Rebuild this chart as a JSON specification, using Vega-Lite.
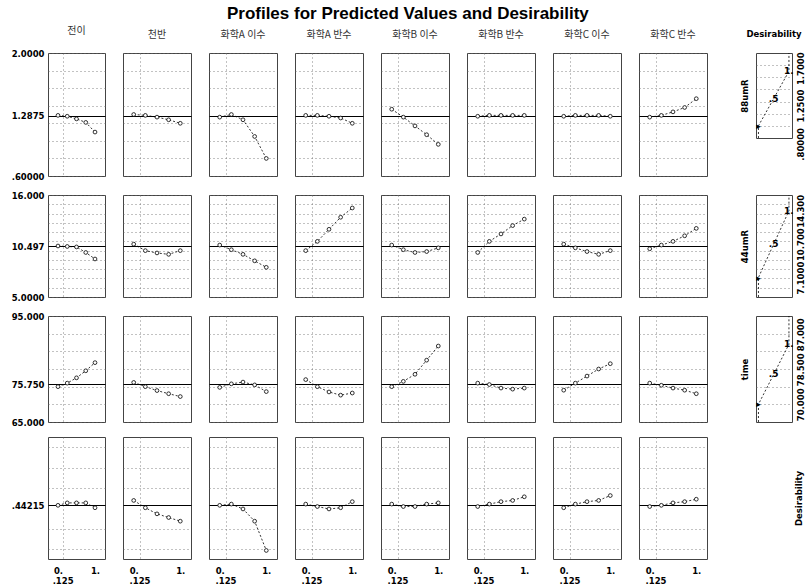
{
"$schema": "https://vega.github.io/schema/vega-lite/v6.json",
"padding": {"left": 10, "top": 4, "right": 0, "bottom": 0},
"title": {"text": "Profiles for Predicted Values and Desirability", "font": "Liberation Sans", "fontSize": 17, "fontWeight": "bold", "color": "#000", "anchor": "middle", "offset": 3},
"config": {
  "view": {"stroke": "#444", "strokeWidth": 1},
  "axis": {"ticks": false, "domain": false, "labelFont": "DejaVu Sans", "labelFontWeight": "bold", "labelFontSize": 8.5, "labelColor": "#000", "labelOverlap": false, "labelFlush": false, "labelPadding": 4, "gridColor": "#666", "gridDash": [1, 3], "gridWidth": 0.8, "minExtent": 0, "titleFont": "DejaVu Sans", "titleFontWeight": "bold", "titleFontSize": 8.5, "titleColor": "#000"},
  "line": {"color": "#000", "strokeDash": [2, 2], "strokeWidth": 0.8},
  "title": {"font": "Noto Sans CJK KR", "fontSize": 10, "fontWeight": "normal", "color": "#333", "offset": 13}
},
"datasets": {
  "prof": [
    {"r":"88umR","c":"전이","x":0,"y":1.29},{"r":"88umR","c":"전이","x":0.25,"y":1.28},{"r":"88umR","c":"전이","x":0.5,"y":1.25},{"r":"88umR","c":"전이","x":0.75,"y":1.21},{"r":"88umR","c":"전이","x":1,"y":1.10},
    {"r":"88umR","c":"천반","x":0,"y":1.30},{"r":"88umR","c":"천반","x":0.25,"y":1.29},{"r":"88umR","c":"천반","x":0.5,"y":1.27},{"r":"88umR","c":"천반","x":0.75,"y":1.24},{"r":"88umR","c":"천반","x":1,"y":1.20},
    {"r":"88umR","c":"화학A 이수","x":0,"y":1.27},{"r":"88umR","c":"화학A 이수","x":0.25,"y":1.30},{"r":"88umR","c":"화학A 이수","x":0.5,"y":1.24},{"r":"88umR","c":"화학A 이수","x":0.75,"y":1.05},{"r":"88umR","c":"화학A 이수","x":1,"y":0.80},
    {"r":"88umR","c":"화학A 반수","x":0,"y":1.29},{"r":"88umR","c":"화학A 반수","x":0.25,"y":1.29},{"r":"88umR","c":"화학A 반수","x":0.5,"y":1.28},{"r":"88umR","c":"화학A 반수","x":0.75,"y":1.26},{"r":"88umR","c":"화학A 반수","x":1,"y":1.20},
    {"r":"88umR","c":"화학B 이수","x":0,"y":1.36},{"r":"88umR","c":"화학B 이수","x":0.25,"y":1.27},{"r":"88umR","c":"화학B 이수","x":0.5,"y":1.17},{"r":"88umR","c":"화학B 이수","x":0.75,"y":1.07},{"r":"88umR","c":"화학B 이수","x":1,"y":0.96},
    {"r":"88umR","c":"화학B 반수","x":0,"y":1.28},{"r":"88umR","c":"화학B 반수","x":0.25,"y":1.29},{"r":"88umR","c":"화학B 반수","x":0.5,"y":1.29},{"r":"88umR","c":"화학B 반수","x":0.75,"y":1.29},{"r":"88umR","c":"화학B 반수","x":1,"y":1.29},
    {"r":"88umR","c":"화학C 이수","x":0,"y":1.28},{"r":"88umR","c":"화학C 이수","x":0.25,"y":1.29},{"r":"88umR","c":"화학C 이수","x":0.5,"y":1.29},{"r":"88umR","c":"화학C 이수","x":0.75,"y":1.29},{"r":"88umR","c":"화학C 이수","x":1,"y":1.28},
    {"r":"88umR","c":"화학C 반수","x":0,"y":1.27},{"r":"88umR","c":"화학C 반수","x":0.25,"y":1.29},{"r":"88umR","c":"화학C 반수","x":0.5,"y":1.33},{"r":"88umR","c":"화학C 반수","x":0.75,"y":1.38},{"r":"88umR","c":"화학C 반수","x":1,"y":1.48},
    {"r":"44umR","c":"전이","x":0,"y":10.5},{"r":"44umR","c":"전이","x":0.25,"y":10.45},{"r":"44umR","c":"전이","x":0.5,"y":10.4},{"r":"44umR","c":"전이","x":0.75,"y":9.8},{"r":"44umR","c":"전이","x":1,"y":9.1},
    {"r":"44umR","c":"천반","x":0,"y":10.7},{"r":"44umR","c":"천반","x":0.25,"y":10.0},{"r":"44umR","c":"천반","x":0.5,"y":9.75},{"r":"44umR","c":"천반","x":0.75,"y":9.6},{"r":"44umR","c":"천반","x":1,"y":10.0},
    {"r":"44umR","c":"화학A 이수","x":0,"y":10.6},{"r":"44umR","c":"화학A 이수","x":0.25,"y":10.1},{"r":"44umR","c":"화학A 이수","x":0.5,"y":9.6},{"r":"44umR","c":"화학A 이수","x":0.75,"y":8.9},{"r":"44umR","c":"화학A 이수","x":1,"y":8.2},
    {"r":"44umR","c":"화학A 반수","x":0,"y":10.0},{"r":"44umR","c":"화학A 반수","x":0.25,"y":11.0},{"r":"44umR","c":"화학A 반수","x":0.5,"y":12.3},{"r":"44umR","c":"화학A 반수","x":0.75,"y":13.6},{"r":"44umR","c":"화학A 반수","x":1,"y":14.6},
    {"r":"44umR","c":"화학B 이수","x":0,"y":10.6},{"r":"44umR","c":"화학B 이수","x":0.25,"y":10.1},{"r":"44umR","c":"화학B 이수","x":0.5,"y":9.8},{"r":"44umR","c":"화학B 이수","x":0.75,"y":9.9},{"r":"44umR","c":"화학B 이수","x":1,"y":10.3},
    {"r":"44umR","c":"화학B 반수","x":0,"y":9.8},{"r":"44umR","c":"화학B 반수","x":0.25,"y":11.0},{"r":"44umR","c":"화학B 반수","x":0.5,"y":11.8},{"r":"44umR","c":"화학B 반수","x":0.75,"y":12.7},{"r":"44umR","c":"화학B 반수","x":1,"y":13.4},
    {"r":"44umR","c":"화학C 이수","x":0,"y":10.7},{"r":"44umR","c":"화학C 이수","x":0.25,"y":10.3},{"r":"44umR","c":"화학C 이수","x":0.5,"y":9.9},{"r":"44umR","c":"화학C 이수","x":0.75,"y":9.6},{"r":"44umR","c":"화학C 이수","x":1,"y":10.0},
    {"r":"44umR","c":"화학C 반수","x":0,"y":10.2},{"r":"44umR","c":"화학C 반수","x":0.25,"y":10.6},{"r":"44umR","c":"화학C 반수","x":0.5,"y":11.0},{"r":"44umR","c":"화학C 반수","x":0.75,"y":11.6},{"r":"44umR","c":"화학C 반수","x":1,"y":12.4},
    {"r":"time","c":"전이","x":0,"y":75.0},{"r":"time","c":"전이","x":0.25,"y":76.0},{"r":"time","c":"전이","x":0.5,"y":77.5},{"r":"time","c":"전이","x":0.75,"y":79.5},{"r":"time","c":"전이","x":1,"y":81.8},
    {"r":"time","c":"천반","x":0,"y":76.2},{"r":"time","c":"천반","x":0.25,"y":75.0},{"r":"time","c":"천반","x":0.5,"y":73.9},{"r":"time","c":"천반","x":0.75,"y":73.0},{"r":"time","c":"천반","x":1,"y":72.2},
    {"r":"time","c":"화학A 이수","x":0,"y":74.8},{"r":"time","c":"화학A 이수","x":0.25,"y":75.8},{"r":"time","c":"화학A 이수","x":0.5,"y":76.3},{"r":"time","c":"화학A 이수","x":0.75,"y":75.5},{"r":"time","c":"화학A 이수","x":1,"y":73.6},
    {"r":"time","c":"화학A 반수","x":0,"y":77.0},{"r":"time","c":"화학A 반수","x":0.25,"y":75.0},{"r":"time","c":"화학A 반수","x":0.5,"y":73.5},{"r":"time","c":"화학A 반수","x":0.75,"y":72.6},{"r":"time","c":"화학A 반수","x":1,"y":73.2},
    {"r":"time","c":"화학B 이수","x":0,"y":75.0},{"r":"time","c":"화학B 이수","x":0.25,"y":76.5},{"r":"time","c":"화학B 이수","x":0.5,"y":78.5},{"r":"time","c":"화학B 이수","x":0.75,"y":82.5},{"r":"time","c":"화학B 이수","x":1,"y":86.5},
    {"r":"time","c":"화학B 반수","x":0,"y":76.0},{"r":"time","c":"화학B 반수","x":0.25,"y":75.6},{"r":"time","c":"화학B 반수","x":0.5,"y":74.6},{"r":"time","c":"화학B 반수","x":0.75,"y":74.3},{"r":"time","c":"화학B 반수","x":1,"y":74.6},
    {"r":"time","c":"화학C 이수","x":0,"y":74.0},{"r":"time","c":"화학C 이수","x":0.25,"y":76.0},{"r":"time","c":"화학C 이수","x":0.5,"y":78.0},{"r":"time","c":"화학C 이수","x":0.75,"y":80.0},{"r":"time","c":"화학C 이수","x":1,"y":81.5},
    {"r":"time","c":"화학C 반수","x":0,"y":76.0},{"r":"time","c":"화학C 반수","x":0.25,"y":75.4},{"r":"time","c":"화학C 반수","x":0.5,"y":74.6},{"r":"time","c":"화학C 반수","x":0.75,"y":74.0},{"r":"time","c":"화학C 반수","x":1,"y":73.0},
    {"r":"Desirability","c":"전이","x":0,"y":0.44},{"r":"Desirability","c":"전이","x":0.25,"y":0.46},{"r":"Desirability","c":"전이","x":0.5,"y":0.46},{"r":"Desirability","c":"전이","x":0.75,"y":0.46},{"r":"Desirability","c":"전이","x":1,"y":0.42},
    {"r":"Desirability","c":"천반","x":0,"y":0.48},{"r":"Desirability","c":"천반","x":0.25,"y":0.42},{"r":"Desirability","c":"천반","x":0.5,"y":0.37},{"r":"Desirability","c":"천반","x":0.75,"y":0.34},{"r":"Desirability","c":"천반","x":1,"y":0.31},
    {"r":"Desirability","c":"화학A 이수","x":0,"y":0.44},{"r":"Desirability","c":"화학A 이수","x":0.25,"y":0.45},{"r":"Desirability","c":"화학A 이수","x":0.5,"y":0.41},{"r":"Desirability","c":"화학A 이수","x":0.75,"y":0.31},{"r":"Desirability","c":"화학A 이수","x":1,"y":0.07},
    {"r":"Desirability","c":"화학A 반수","x":0,"y":0.45},{"r":"Desirability","c":"화학A 반수","x":0.25,"y":0.43},{"r":"Desirability","c":"화학A 반수","x":0.5,"y":0.41},{"r":"Desirability","c":"화학A 반수","x":0.75,"y":0.42},{"r":"Desirability","c":"화학A 반수","x":1,"y":0.47},
    {"r":"Desirability","c":"화학B 이수","x":0,"y":0.45},{"r":"Desirability","c":"화학B 이수","x":0.25,"y":0.43},{"r":"Desirability","c":"화학B 이수","x":0.5,"y":0.43},{"r":"Desirability","c":"화학B 이수","x":0.75,"y":0.45},{"r":"Desirability","c":"화학B 이수","x":1,"y":0.46},
    {"r":"Desirability","c":"화학B 반수","x":0,"y":0.43},{"r":"Desirability","c":"화학B 반수","x":0.25,"y":0.45},{"r":"Desirability","c":"화학B 반수","x":0.5,"y":0.47},{"r":"Desirability","c":"화학B 반수","x":0.75,"y":0.48},{"r":"Desirability","c":"화학B 반수","x":1,"y":0.51},
    {"r":"Desirability","c":"화학C 이수","x":0,"y":0.42},{"r":"Desirability","c":"화학C 이수","x":0.25,"y":0.45},{"r":"Desirability","c":"화학C 이수","x":0.5,"y":0.47},{"r":"Desirability","c":"화학C 이수","x":0.75,"y":0.48},{"r":"Desirability","c":"화학C 이수","x":1,"y":0.52},
    {"r":"Desirability","c":"화학C 반수","x":0,"y":0.43},{"r":"Desirability","c":"화학C 반수","x":0.25,"y":0.44},{"r":"Desirability","c":"화학C 반수","x":0.5,"y":0.46},{"r":"Desirability","c":"화학C 반수","x":0.75,"y":0.47},{"r":"Desirability","c":"화학C 반수","x":1,"y":0.49}
  ],
  "desir": [
    {"r":"88umR","d":0,"v":0.6,"mk":""},{"r":"88umR","d":0,"v":0.8,"mk":"▸"},{"r":"88umR","d":0.5,"v":1.25,"mk":".5"},{"r":"88umR","d":1,"v":1.7,"mk":"1."},{"r":"88umR","d":1,"v":2,"mk":""},
    {"r":"44umR","d":0,"v":5,"mk":""},{"r":"44umR","d":0,"v":7.1,"mk":"▸"},{"r":"44umR","d":0.5,"v":10.7,"mk":".5"},{"r":"44umR","d":1,"v":14.3,"mk":"1."},{"r":"44umR","d":1,"v":16,"mk":""},
    {"r":"time","d":0,"v":65,"mk":""},{"r":"time","d":0,"v":70,"mk":"▸"},{"r":"time","d":0.5,"v":78.5,"mk":".5"},{"r":"time","d":1,"v":87,"mk":"1."},{"r":"time","d":1,"v":95,"mk":""}
  ]
},
"spacing": 9,
"vconcat": [
{
 "data": {"name": "prof"},
 "spacing": 31,
 "hconcat": [
  {"spacing": 16, "hconcat": [
   {"width":57,"height":123,"title":"전이","transform":[{"filter":"datum.r == '88umR' && datum.c == '전이'"}],"mark":{"type":"line","point":{"filled":true,"fill":"white","stroke":"#000","strokeWidth":0.8,"size":14}},
    "encoding":{"x":{"field":"x","type":"quantitative","scale":{"domain":[-0.27,1.27]},"axis":{"title":null,"values":[0.125],"labels":false}},
     "y":{"field":"y","type":"quantitative","scale":{"domain":[0.6,2],"nice":false,"zero":false},"axis":{"title":null,"values":[0.6,0.8,1,1.2,1.2875,1.4,1.6,1.8,2],"labelExpr":"datum.value == 2 ? '2.0000' : datum.value == 1.2875 ? '1.2875' : datum.value == 0.6 ? '.60000' : ''","gridDash":{"condition":{"test":"datum.value == 1.2875","value":[]},"value":[1,3]},"gridColor":{"condition":{"test":"datum.value == 1.2875","value":"#000"},"value":"#666"},"gridWidth":{"condition":{"test":"datum.value == 1.2875","value":1.2},"value":0.8}}}}},
   {"width":68,"height":123,"title":"천반","transform":[{"filter":"datum.r == '88umR' && datum.c == '천반'"}],"mark":{"type":"line","point":{"filled":true,"fill":"white","stroke":"#000","strokeWidth":0.8,"size":14}},
    "encoding":{"x":{"field":"x","type":"quantitative","scale":{"domain":[-0.23,1.23]},"axis":{"title":null,"values":[0.125],"labels":false}},
     "y":{"field":"y","type":"quantitative","scale":{"domain":[0.6,2],"nice":false,"zero":false},"axis":{"title":null,"labels":false,"values":[0.6,0.8,1,1.2,1.2875,1.4,1.6,1.8,2],"gridDash":{"condition":{"test":"datum.value == 1.2875","value":[]},"value":[1,3]},"gridColor":{"condition":{"test":"datum.value == 1.2875","value":"#000"},"value":"#666"},"gridWidth":{"condition":{"test":"datum.value == 1.2875","value":1.2},"value":0.8}}}}},
   {"width":68,"height":123,"title":"화학A 이수","transform":[{"filter":"datum.r == '88umR' && datum.c == '화학A 이수'"}],"mark":{"type":"line","point":{"filled":true,"fill":"white","stroke":"#000","strokeWidth":0.8,"size":14}},
    "encoding":{"x":{"field":"x","type":"quantitative","scale":{"domain":[-0.23,1.23]},"axis":{"title":null,"values":[0.125],"labels":false}},
     "y":{"field":"y","type":"quantitative","scale":{"domain":[0.6,2],"nice":false,"zero":false},"axis":{"title":null,"labels":false,"values":[0.6,0.8,1,1.2,1.2875,1.4,1.6,1.8,2],"gridDash":{"condition":{"test":"datum.value == 1.2875","value":[]},"value":[1,3]},"gridColor":{"condition":{"test":"datum.value == 1.2875","value":"#000"},"value":"#666"},"gridWidth":{"condition":{"test":"datum.value == 1.2875","value":1.2},"value":0.8}}}}},
   {"width":68,"height":123,"title":"화학A 반수","transform":[{"filter":"datum.r == '88umR' && datum.c == '화학A 반수'"}],"mark":{"type":"line","point":{"filled":true,"fill":"white","stroke":"#000","strokeWidth":0.8,"size":14}},
    "encoding":{"x":{"field":"x","type":"quantitative","scale":{"domain":[-0.23,1.23]},"axis":{"title":null,"values":[0.125],"labels":false}},
     "y":{"field":"y","type":"quantitative","scale":{"domain":[0.6,2],"nice":false,"zero":false},"axis":{"title":null,"labels":false,"values":[0.6,0.8,1,1.2,1.2875,1.4,1.6,1.8,2],"gridDash":{"condition":{"test":"datum.value == 1.2875","value":[]},"value":[1,3]},"gridColor":{"condition":{"test":"datum.value == 1.2875","value":"#000"},"value":"#666"},"gridWidth":{"condition":{"test":"datum.value == 1.2875","value":1.2},"value":0.8}}}}},
   {"width":68,"height":123,"title":"화학B 이수","transform":[{"filter":"datum.r == '88umR' && datum.c == '화학B 이수'"}],"mark":{"type":"line","point":{"filled":true,"fill":"white","stroke":"#000","strokeWidth":0.8,"size":14}},
    "encoding":{"x":{"field":"x","type":"quantitative","scale":{"domain":[-0.23,1.23]},"axis":{"title":null,"values":[0.125],"labels":false}},
     "y":{"field":"y","type":"quantitative","scale":{"domain":[0.6,2],"nice":false,"zero":false},"axis":{"title":null,"labels":false,"values":[0.6,0.8,1,1.2,1.2875,1.4,1.6,1.8,2],"gridDash":{"condition":{"test":"datum.value == 1.2875","value":[]},"value":[1,3]},"gridColor":{"condition":{"test":"datum.value == 1.2875","value":"#000"},"value":"#666"},"gridWidth":{"condition":{"test":"datum.value == 1.2875","value":1.2},"value":0.8}}}}},
   {"width":68,"height":123,"title":"화학B 반수","transform":[{"filter":"datum.r == '88umR' && datum.c == '화학B 반수'"}],"mark":{"type":"line","point":{"filled":true,"fill":"white","stroke":"#000","strokeWidth":0.8,"size":14}},
    "encoding":{"x":{"field":"x","type":"quantitative","scale":{"domain":[-0.23,1.23]},"axis":{"title":null,"values":[0.125],"labels":false}},
     "y":{"field":"y","type":"quantitative","scale":{"domain":[0.6,2],"nice":false,"zero":false},"axis":{"title":null,"labels":false,"values":[0.6,0.8,1,1.2,1.2875,1.4,1.6,1.8,2],"gridDash":{"condition":{"test":"datum.value == 1.2875","value":[]},"value":[1,3]},"gridColor":{"condition":{"test":"datum.value == 1.2875","value":"#000"},"value":"#666"},"gridWidth":{"condition":{"test":"datum.value == 1.2875","value":1.2},"value":0.8}}}}},
   {"width":68,"height":123,"title":"화학C 이수","transform":[{"filter":"datum.r == '88umR' && datum.c == '화학C 이수'"}],"mark":{"type":"line","point":{"filled":true,"fill":"white","stroke":"#000","strokeWidth":0.8,"size":14}},
    "encoding":{"x":{"field":"x","type":"quantitative","scale":{"domain":[-0.23,1.23]},"axis":{"title":null,"values":[0.125],"labels":false}},
     "y":{"field":"y","type":"quantitative","scale":{"domain":[0.6,2],"nice":false,"zero":false},"axis":{"title":null,"labels":false,"values":[0.6,0.8,1,1.2,1.2875,1.4,1.6,1.8,2],"gridDash":{"condition":{"test":"datum.value == 1.2875","value":[]},"value":[1,3]},"gridColor":{"condition":{"test":"datum.value == 1.2875","value":"#000"},"value":"#666"},"gridWidth":{"condition":{"test":"datum.value == 1.2875","value":1.2},"value":0.8}}}}},
   {"width":68,"height":123,"title":"화학C 반수","transform":[{"filter":"datum.r == '88umR' && datum.c == '화학C 반수'"}],"mark":{"type":"line","point":{"filled":true,"fill":"white","stroke":"#000","strokeWidth":0.8,"size":14}},
    "encoding":{"x":{"field":"x","type":"quantitative","scale":{"domain":[-0.23,1.23]},"axis":{"title":null,"values":[0.125],"labels":false}},
     "y":{"field":"y","type":"quantitative","scale":{"domain":[0.6,2],"nice":false,"zero":false},"axis":{"title":null,"labels":false,"values":[0.6,0.8,1,1.2,1.2875,1.4,1.6,1.8,2],"gridDash":{"condition":{"test":"datum.value == 1.2875","value":[]},"value":[1,3]},"gridColor":{"condition":{"test":"datum.value == 1.2875","value":"#000"},"value":"#666"},"gridWidth":{"condition":{"test":"datum.value == 1.2875","value":1.2},"value":0.8}}}}}
  ]},
  {"width":36,"height":85,
   "title":{"text":"Desirability","font":"DejaVu Sans","fontWeight":"bold","fontSize":8.5,"color":"#000"},
   "data":{"name":"desir"},
   "transform":[{"filter":"datum.r == '88umR'"}],
   "resolve":{"scale":{"y":"independent"}},
   "layer":[
    {"mark":"line","encoding":{"order":{"field":"v"},"x":{"field":"d","type":"quantitative","scale":{"domain":[-0.08,1.1]},"axis":null},
      "y":{"field":"v","type":"quantitative","scale":{"domain":[0.6,2],"nice":false,"zero":false},"axis":{"orient":"left","title":"88umR","labels":false,"values":[0.8,1,1.2,1.4,1.6,1.8],"titlePadding":7}}}},
    {"transform":[{"filter":"datum.mk != ''"}],"mark":{"type":"text","font":"DejaVu Sans","fontWeight":"bold","fontSize":9},
     "encoding":{"text":{"field":"mk"},"x":{"field":"d","type":"quantitative","scale":{"domain":[-0.08,1.1]},"axis":null},
      "y":{"field":"v","type":"quantitative","scale":{"domain":[0.6,2],"nice":false,"zero":false},"axis":{"orient":"right","title":null,"grid":false,"values":[0.8,1.25,1.7],"labelExpr":"datum.value == 0.8 ? '.80000' : datum.value == 1.25 ? '1.2500' : '1.7000'","labelAngle":270,"labelAlign":"center","labelBaseline":"top","labelOffset":{"condition":[{"test":"datum.value < 1","value":18},{"test":"datum.value < 1.5","value":7}],"value":-3}}}}}
   ]}
 ]
},
{
 "data": {"name": "prof"},
 "spacing": 31,
 "hconcat": [
  {"spacing": 16, "hconcat": [
   {"width":57,"height":102,"transform":[{"filter":"datum.r == '44umR' && datum.c == '전이'"}],"mark":{"type":"line","point":{"filled":true,"fill":"white","stroke":"#000","strokeWidth":0.8,"size":14}},
    "encoding":{"x":{"field":"x","type":"quantitative","scale":{"domain":[-0.27,1.27]},"axis":{"title":null,"values":[0.125],"labels":false}},
     "y":{"field":"y","type":"quantitative","scale":{"domain":[5,16],"nice":false,"zero":false},"axis":{"title":null,"values":[5,6,7,8,9,10,10.497,11,12,13,14,15,16],"labelExpr":"datum.value == 16 ? '16.000' : datum.value == 10.497 ? '10.497' : datum.value == 5 ? '5.0000' : ''","gridDash":{"condition":{"test":"datum.value == 10.497","value":[]},"value":[1,3]},"gridColor":{"condition":{"test":"datum.value == 10.497","value":"#000"},"value":"#666"},"gridWidth":{"condition":{"test":"datum.value == 10.497","value":1.2},"value":0.8}}}}},
   {"width":68,"height":102,"transform":[{"filter":"datum.r == '44umR' && datum.c == '천반'"}],"mark":{"type":"line","point":{"filled":true,"fill":"white","stroke":"#000","strokeWidth":0.8,"size":14}},
    "encoding":{"x":{"field":"x","type":"quantitative","scale":{"domain":[-0.23,1.23]},"axis":{"title":null,"values":[0.125],"labels":false}},
     "y":{"field":"y","type":"quantitative","scale":{"domain":[5,16],"nice":false,"zero":false},"axis":{"title":null,"labels":false,"values":[5,6,7,8,9,10,10.497,11,12,13,14,15,16],"gridDash":{"condition":{"test":"datum.value == 10.497","value":[]},"value":[1,3]},"gridColor":{"condition":{"test":"datum.value == 10.497","value":"#000"},"value":"#666"},"gridWidth":{"condition":{"test":"datum.value == 10.497","value":1.2},"value":0.8}}}}},
   {"width":68,"height":102,"transform":[{"filter":"datum.r == '44umR' && datum.c == '화학A 이수'"}],"mark":{"type":"line","point":{"filled":true,"fill":"white","stroke":"#000","strokeWidth":0.8,"size":14}},
    "encoding":{"x":{"field":"x","type":"quantitative","scale":{"domain":[-0.23,1.23]},"axis":{"title":null,"values":[0.125],"labels":false}},
     "y":{"field":"y","type":"quantitative","scale":{"domain":[5,16],"nice":false,"zero":false},"axis":{"title":null,"labels":false,"values":[5,6,7,8,9,10,10.497,11,12,13,14,15,16],"gridDash":{"condition":{"test":"datum.value == 10.497","value":[]},"value":[1,3]},"gridColor":{"condition":{"test":"datum.value == 10.497","value":"#000"},"value":"#666"},"gridWidth":{"condition":{"test":"datum.value == 10.497","value":1.2},"value":0.8}}}}},
   {"width":68,"height":102,"transform":[{"filter":"datum.r == '44umR' && datum.c == '화학A 반수'"}],"mark":{"type":"line","point":{"filled":true,"fill":"white","stroke":"#000","strokeWidth":0.8,"size":14}},
    "encoding":{"x":{"field":"x","type":"quantitative","scale":{"domain":[-0.23,1.23]},"axis":{"title":null,"values":[0.125],"labels":false}},
     "y":{"field":"y","type":"quantitative","scale":{"domain":[5,16],"nice":false,"zero":false},"axis":{"title":null,"labels":false,"values":[5,6,7,8,9,10,10.497,11,12,13,14,15,16],"gridDash":{"condition":{"test":"datum.value == 10.497","value":[]},"value":[1,3]},"gridColor":{"condition":{"test":"datum.value == 10.497","value":"#000"},"value":"#666"},"gridWidth":{"condition":{"test":"datum.value == 10.497","value":1.2},"value":0.8}}}}},
   {"width":68,"height":102,"transform":[{"filter":"datum.r == '44umR' && datum.c == '화학B 이수'"}],"mark":{"type":"line","point":{"filled":true,"fill":"white","stroke":"#000","strokeWidth":0.8,"size":14}},
    "encoding":{"x":{"field":"x","type":"quantitative","scale":{"domain":[-0.23,1.23]},"axis":{"title":null,"values":[0.125],"labels":false}},
     "y":{"field":"y","type":"quantitative","scale":{"domain":[5,16],"nice":false,"zero":false},"axis":{"title":null,"labels":false,"values":[5,6,7,8,9,10,10.497,11,12,13,14,15,16],"gridDash":{"condition":{"test":"datum.value == 10.497","value":[]},"value":[1,3]},"gridColor":{"condition":{"test":"datum.value == 10.497","value":"#000"},"value":"#666"},"gridWidth":{"condition":{"test":"datum.value == 10.497","value":1.2},"value":0.8}}}}},
   {"width":68,"height":102,"transform":[{"filter":"datum.r == '44umR' && datum.c == '화학B 반수'"}],"mark":{"type":"line","point":{"filled":true,"fill":"white","stroke":"#000","strokeWidth":0.8,"size":14}},
    "encoding":{"x":{"field":"x","type":"quantitative","scale":{"domain":[-0.23,1.23]},"axis":{"title":null,"values":[0.125],"labels":false}},
     "y":{"field":"y","type":"quantitative","scale":{"domain":[5,16],"nice":false,"zero":false},"axis":{"title":null,"labels":false,"values":[5,6,7,8,9,10,10.497,11,12,13,14,15,16],"gridDash":{"condition":{"test":"datum.value == 10.497","value":[]},"value":[1,3]},"gridColor":{"condition":{"test":"datum.value == 10.497","value":"#000"},"value":"#666"},"gridWidth":{"condition":{"test":"datum.value == 10.497","value":1.2},"value":0.8}}}}},
   {"width":68,"height":102,"transform":[{"filter":"datum.r == '44umR' && datum.c == '화학C 이수'"}],"mark":{"type":"line","point":{"filled":true,"fill":"white","stroke":"#000","strokeWidth":0.8,"size":14}},
    "encoding":{"x":{"field":"x","type":"quantitative","scale":{"domain":[-0.23,1.23]},"axis":{"title":null,"values":[0.125],"labels":false}},
     "y":{"field":"y","type":"quantitative","scale":{"domain":[5,16],"nice":false,"zero":false},"axis":{"title":null,"labels":false,"values":[5,6,7,8,9,10,10.497,11,12,13,14,15,16],"gridDash":{"condition":{"test":"datum.value == 10.497","value":[]},"value":[1,3]},"gridColor":{"condition":{"test":"datum.value == 10.497","value":"#000"},"value":"#666"},"gridWidth":{"condition":{"test":"datum.value == 10.497","value":1.2},"value":0.8}}}}},
   {"width":68,"height":102,"transform":[{"filter":"datum.r == '44umR' && datum.c == '화학C 반수'"}],"mark":{"type":"line","point":{"filled":true,"fill":"white","stroke":"#000","strokeWidth":0.8,"size":14}},
    "encoding":{"x":{"field":"x","type":"quantitative","scale":{"domain":[-0.23,1.23]},"axis":{"title":null,"values":[0.125],"labels":false}},
     "y":{"field":"y","type":"quantitative","scale":{"domain":[5,16],"nice":false,"zero":false},"axis":{"title":null,"labels":false,"values":[5,6,7,8,9,10,10.497,11,12,13,14,15,16],"gridDash":{"condition":{"test":"datum.value == 10.497","value":[]},"value":[1,3]},"gridColor":{"condition":{"test":"datum.value == 10.497","value":"#000"},"value":"#666"},"gridWidth":{"condition":{"test":"datum.value == 10.497","value":1.2},"value":0.8}}}}}
  ]},
  {"width":36,"height":102,
   "data":{"name":"desir"},
   "transform":[{"filter":"datum.r == '44umR'"}],
   "resolve":{"scale":{"y":"independent"}},
   "layer":[
    {"mark":"line","encoding":{"order":{"field":"v"},"x":{"field":"d","type":"quantitative","scale":{"domain":[-0.08,1.1]},"axis":null},
      "y":{"field":"v","type":"quantitative","scale":{"domain":[5,16],"nice":false,"zero":false},"axis":{"orient":"left","title":"44umR","labels":false,"values":[6,7,8,9,10,11,12,13,14,15],"titlePadding":7}}}},
    {"transform":[{"filter":"datum.mk != ''"}],"mark":{"type":"text","font":"DejaVu Sans","fontWeight":"bold","fontSize":9},
     "encoding":{"text":{"field":"mk"},"x":{"field":"d","type":"quantitative","scale":{"domain":[-0.08,1.1]},"axis":null},
      "y":{"field":"v","type":"quantitative","scale":{"domain":[5,16],"nice":false,"zero":false},"axis":{"orient":"right","title":null,"grid":false,"values":[7.1,10.7,14.3],"labelExpr":"datum.value == 7.1 ? '7.1000' : datum.value == 10.7 ? '10.700' : '14.300'","labelAngle":270,"labelAlign":"center","labelBaseline":"top"}}}}
   ]}
 ]
},
{
 "data": {"name": "prof"},
 "spacing": 31,
 "hconcat": [
  {"spacing": 16, "hconcat": [
   {"width":57,"height":106,"transform":[{"filter":"datum.r == 'time' && datum.c == '전이'"}],"mark":{"type":"line","point":{"filled":true,"fill":"white","stroke":"#000","strokeWidth":0.8,"size":14}},
    "encoding":{"x":{"field":"x","type":"quantitative","scale":{"domain":[-0.27,1.27]},"axis":{"title":null,"values":[0.125],"labels":false}},
     "y":{"field":"y","type":"quantitative","scale":{"domain":[65,95],"nice":false,"zero":false},"axis":{"title":null,"values":[65,70,75,75.75,80,85,90,95],"labelExpr":"datum.value == 95 ? '95.000' : datum.value == 75.75 ? '75.750' : datum.value == 65 ? '65.000' : ''","gridDash":{"condition":{"test":"datum.value == 75.75","value":[]},"value":[1,3]},"gridColor":{"condition":{"test":"datum.value == 75.75","value":"#000"},"value":"#666"},"gridWidth":{"condition":{"test":"datum.value == 75.75","value":1.2},"value":0.8}}}}},
   {"width":68,"height":106,"transform":[{"filter":"datum.r == 'time' && datum.c == '천반'"}],"mark":{"type":"line","point":{"filled":true,"fill":"white","stroke":"#000","strokeWidth":0.8,"size":14}},
    "encoding":{"x":{"field":"x","type":"quantitative","scale":{"domain":[-0.23,1.23]},"axis":{"title":null,"values":[0.125],"labels":false}},
     "y":{"field":"y","type":"quantitative","scale":{"domain":[65,95],"nice":false,"zero":false},"axis":{"title":null,"labels":false,"values":[65,70,75,75.75,80,85,90,95],"gridDash":{"condition":{"test":"datum.value == 75.75","value":[]},"value":[1,3]},"gridColor":{"condition":{"test":"datum.value == 75.75","value":"#000"},"value":"#666"},"gridWidth":{"condition":{"test":"datum.value == 75.75","value":1.2},"value":0.8}}}}},
   {"width":68,"height":106,"transform":[{"filter":"datum.r == 'time' && datum.c == '화학A 이수'"}],"mark":{"type":"line","point":{"filled":true,"fill":"white","stroke":"#000","strokeWidth":0.8,"size":14}},
    "encoding":{"x":{"field":"x","type":"quantitative","scale":{"domain":[-0.23,1.23]},"axis":{"title":null,"values":[0.125],"labels":false}},
     "y":{"field":"y","type":"quantitative","scale":{"domain":[65,95],"nice":false,"zero":false},"axis":{"title":null,"labels":false,"values":[65,70,75,75.75,80,85,90,95],"gridDash":{"condition":{"test":"datum.value == 75.75","value":[]},"value":[1,3]},"gridColor":{"condition":{"test":"datum.value == 75.75","value":"#000"},"value":"#666"},"gridWidth":{"condition":{"test":"datum.value == 75.75","value":1.2},"value":0.8}}}}},
   {"width":68,"height":106,"transform":[{"filter":"datum.r == 'time' && datum.c == '화학A 반수'"}],"mark":{"type":"line","point":{"filled":true,"fill":"white","stroke":"#000","strokeWidth":0.8,"size":14}},
    "encoding":{"x":{"field":"x","type":"quantitative","scale":{"domain":[-0.23,1.23]},"axis":{"title":null,"values":[0.125],"labels":false}},
     "y":{"field":"y","type":"quantitative","scale":{"domain":[65,95],"nice":false,"zero":false},"axis":{"title":null,"labels":false,"values":[65,70,75,75.75,80,85,90,95],"gridDash":{"condition":{"test":"datum.value == 75.75","value":[]},"value":[1,3]},"gridColor":{"condition":{"test":"datum.value == 75.75","value":"#000"},"value":"#666"},"gridWidth":{"condition":{"test":"datum.value == 75.75","value":1.2},"value":0.8}}}}},
   {"width":68,"height":106,"transform":[{"filter":"datum.r == 'time' && datum.c == '화학B 이수'"}],"mark":{"type":"line","point":{"filled":true,"fill":"white","stroke":"#000","strokeWidth":0.8,"size":14}},
    "encoding":{"x":{"field":"x","type":"quantitative","scale":{"domain":[-0.23,1.23]},"axis":{"title":null,"values":[0.125],"labels":false}},
     "y":{"field":"y","type":"quantitative","scale":{"domain":[65,95],"nice":false,"zero":false},"axis":{"title":null,"labels":false,"values":[65,70,75,75.75,80,85,90,95],"gridDash":{"condition":{"test":"datum.value == 75.75","value":[]},"value":[1,3]},"gridColor":{"condition":{"test":"datum.value == 75.75","value":"#000"},"value":"#666"},"gridWidth":{"condition":{"test":"datum.value == 75.75","value":1.2},"value":0.8}}}}},
   {"width":68,"height":106,"transform":[{"filter":"datum.r == 'time' && datum.c == '화학B 반수'"}],"mark":{"type":"line","point":{"filled":true,"fill":"white","stroke":"#000","strokeWidth":0.8,"size":14}},
    "encoding":{"x":{"field":"x","type":"quantitative","scale":{"domain":[-0.23,1.23]},"axis":{"title":null,"values":[0.125],"labels":false}},
     "y":{"field":"y","type":"quantitative","scale":{"domain":[65,95],"nice":false,"zero":false},"axis":{"title":null,"labels":false,"values":[65,70,75,75.75,80,85,90,95],"gridDash":{"condition":{"test":"datum.value == 75.75","value":[]},"value":[1,3]},"gridColor":{"condition":{"test":"datum.value == 75.75","value":"#000"},"value":"#666"},"gridWidth":{"condition":{"test":"datum.value == 75.75","value":1.2},"value":0.8}}}}},
   {"width":68,"height":106,"transform":[{"filter":"datum.r == 'time' && datum.c == '화학C 이수'"}],"mark":{"type":"line","point":{"filled":true,"fill":"white","stroke":"#000","strokeWidth":0.8,"size":14}},
    "encoding":{"x":{"field":"x","type":"quantitative","scale":{"domain":[-0.23,1.23]},"axis":{"title":null,"values":[0.125],"labels":false}},
     "y":{"field":"y","type":"quantitative","scale":{"domain":[65,95],"nice":false,"zero":false},"axis":{"title":null,"labels":false,"values":[65,70,75,75.75,80,85,90,95],"gridDash":{"condition":{"test":"datum.value == 75.75","value":[]},"value":[1,3]},"gridColor":{"condition":{"test":"datum.value == 75.75","value":"#000"},"value":"#666"},"gridWidth":{"condition":{"test":"datum.value == 75.75","value":1.2},"value":0.8}}}}},
   {"width":68,"height":106,"transform":[{"filter":"datum.r == 'time' && datum.c == '화학C 반수'"}],"mark":{"type":"line","point":{"filled":true,"fill":"white","stroke":"#000","strokeWidth":0.8,"size":14}},
    "encoding":{"x":{"field":"x","type":"quantitative","scale":{"domain":[-0.23,1.23]},"axis":{"title":null,"values":[0.125],"labels":false}},
     "y":{"field":"y","type":"quantitative","scale":{"domain":[65,95],"nice":false,"zero":false},"axis":{"title":null,"labels":false,"values":[65,70,75,75.75,80,85,90,95],"gridDash":{"condition":{"test":"datum.value == 75.75","value":[]},"value":[1,3]},"gridColor":{"condition":{"test":"datum.value == 75.75","value":"#000"},"value":"#666"},"gridWidth":{"condition":{"test":"datum.value == 75.75","value":1.2},"value":0.8}}}}}
  ]},
  {"width":36,"height":106,
   "data":{"name":"desir"},
   "transform":[{"filter":"datum.r == 'time'"}],
   "resolve":{"scale":{"y":"independent"}},
   "layer":[
    {"mark":"line","encoding":{"order":{"field":"v"},"x":{"field":"d","type":"quantitative","scale":{"domain":[-0.08,1.1]},"axis":null},
      "y":{"field":"v","type":"quantitative","scale":{"domain":[65,95],"nice":false,"zero":false},"axis":{"orient":"left","title":"time","labels":false,"values":[70,75,80,85,90],"titlePadding":7}}}},
    {"transform":[{"filter":"datum.mk != ''"}],"mark":{"type":"text","font":"DejaVu Sans","fontWeight":"bold","fontSize":9},
     "encoding":{"text":{"field":"mk"},"x":{"field":"d","type":"quantitative","scale":{"domain":[-0.08,1.1]},"axis":null},
      "y":{"field":"v","type":"quantitative","scale":{"domain":[65,95],"nice":false,"zero":false},"axis":{"orient":"right","title":null,"grid":false,"values":[70,78.5,87],"labelExpr":"datum.value == 70 ? '70.000' : datum.value == 78.5 ? '78.500' : '87.000'","labelAngle":270,"labelAlign":"center","labelBaseline":"top","labelOffset":{"condition":[{"test":"datum.value > 80","value":-10},{"test":"datum.value > 75","value":-5}],"value":0}}}}}
   ]}
 ]
},
{
 "data": {"name": "prof"},
 "spacing": 31,
 "hconcat": [
  {"spacing": 16, "hconcat": [
   {"width":57,"height":122,"transform":[{"filter":"datum.r == 'Desirability' && datum.c == '전이'"}],"mark":{"type":"line","point":{"filled":true,"fill":"white","stroke":"#000","strokeWidth":0.8,"size":14}},
    "encoding":{"x":{"field":"x","type":"quantitative","scale":{"domain":[-0.27,1.27]},"axis":{"title":null,"values":[0,0.125,1],"labelExpr":"datum.value == 0 ? '0.' : datum.value == 1 ? '1.' : ['', '.125']","gridOpacity":{"condition":{"test":"datum.value == 0.125","value":1},"value":0},"labelPadding":7,"labelLineHeight":10,"labelBaseline":"top"}},
     "y":{"field":"y","type":"quantitative","scale":{"domain":[0,1],"nice":false,"zero":false},"axis":{"title":null,"values":[0.08,0.25,0.44215,0.58,0.75,0.92],"labelExpr":"datum.value == 0.44215 ? '.44215' : ''","gridDash":{"condition":{"test":"datum.value == 0.44215","value":[]},"value":[1,3]},"gridColor":{"condition":{"test":"datum.value == 0.44215","value":"#000"},"value":"#666"},"gridWidth":{"condition":{"test":"datum.value == 0.44215","value":1.2},"value":0.8}}}}},
   {"width":68,"height":122,"transform":[{"filter":"datum.r == 'Desirability' && datum.c == '천반'"}],"mark":{"type":"line","point":{"filled":true,"fill":"white","stroke":"#000","strokeWidth":0.8,"size":14}},
    "encoding":{"x":{"field":"x","type":"quantitative","scale":{"domain":[-0.23,1.23]},"axis":{"title":null,"values":[0,0.125,1],"labelExpr":"datum.value == 0 ? '0.' : datum.value == 1 ? '1.' : ['', '.125']","gridOpacity":{"condition":{"test":"datum.value == 0.125","value":1},"value":0},"labelPadding":7,"labelLineHeight":10,"labelBaseline":"top"}},
     "y":{"field":"y","type":"quantitative","scale":{"domain":[0,1],"nice":false,"zero":false},"axis":{"title":null,"labels":false,"values":[0.08,0.25,0.44215,0.58,0.75,0.92],"gridDash":{"condition":{"test":"datum.value == 0.44215","value":[]},"value":[1,3]},"gridColor":{"condition":{"test":"datum.value == 0.44215","value":"#000"},"value":"#666"},"gridWidth":{"condition":{"test":"datum.value == 0.44215","value":1.2},"value":0.8}}}}},
   {"width":68,"height":122,"transform":[{"filter":"datum.r == 'Desirability' && datum.c == '화학A 이수'"}],"mark":{"type":"line","point":{"filled":true,"fill":"white","stroke":"#000","strokeWidth":0.8,"size":14}},
    "encoding":{"x":{"field":"x","type":"quantitative","scale":{"domain":[-0.23,1.23]},"axis":{"title":null,"values":[0,0.125,1],"labelExpr":"datum.value == 0 ? '0.' : datum.value == 1 ? '1.' : ['', '.125']","gridOpacity":{"condition":{"test":"datum.value == 0.125","value":1},"value":0},"labelPadding":7,"labelLineHeight":10,"labelBaseline":"top"}},
     "y":{"field":"y","type":"quantitative","scale":{"domain":[0,1],"nice":false,"zero":false},"axis":{"title":null,"labels":false,"values":[0.08,0.25,0.44215,0.58,0.75,0.92],"gridDash":{"condition":{"test":"datum.value == 0.44215","value":[]},"value":[1,3]},"gridColor":{"condition":{"test":"datum.value == 0.44215","value":"#000"},"value":"#666"},"gridWidth":{"condition":{"test":"datum.value == 0.44215","value":1.2},"value":0.8}}}}},
   {"width":68,"height":122,"transform":[{"filter":"datum.r == 'Desirability' && datum.c == '화학A 반수'"}],"mark":{"type":"line","point":{"filled":true,"fill":"white","stroke":"#000","strokeWidth":0.8,"size":14}},
    "encoding":{"x":{"field":"x","type":"quantitative","scale":{"domain":[-0.23,1.23]},"axis":{"title":null,"values":[0,0.125,1],"labelExpr":"datum.value == 0 ? '0.' : datum.value == 1 ? '1.' : ['', '.125']","gridOpacity":{"condition":{"test":"datum.value == 0.125","value":1},"value":0},"labelPadding":7,"labelLineHeight":10,"labelBaseline":"top"}},
     "y":{"field":"y","type":"quantitative","scale":{"domain":[0,1],"nice":false,"zero":false},"axis":{"title":null,"labels":false,"values":[0.08,0.25,0.44215,0.58,0.75,0.92],"gridDash":{"condition":{"test":"datum.value == 0.44215","value":[]},"value":[1,3]},"gridColor":{"condition":{"test":"datum.value == 0.44215","value":"#000"},"value":"#666"},"gridWidth":{"condition":{"test":"datum.value == 0.44215","value":1.2},"value":0.8}}}}},
   {"width":68,"height":122,"transform":[{"filter":"datum.r == 'Desirability' && datum.c == '화학B 이수'"}],"mark":{"type":"line","point":{"filled":true,"fill":"white","stroke":"#000","strokeWidth":0.8,"size":14}},
    "encoding":{"x":{"field":"x","type":"quantitative","scale":{"domain":[-0.23,1.23]},"axis":{"title":null,"values":[0,0.125,1],"labelExpr":"datum.value == 0 ? '0.' : datum.value == 1 ? '1.' : ['', '.125']","gridOpacity":{"condition":{"test":"datum.value == 0.125","value":1},"value":0},"labelPadding":7,"labelLineHeight":10,"labelBaseline":"top"}},
     "y":{"field":"y","type":"quantitative","scale":{"domain":[0,1],"nice":false,"zero":false},"axis":{"title":null,"labels":false,"values":[0.08,0.25,0.44215,0.58,0.75,0.92],"gridDash":{"condition":{"test":"datum.value == 0.44215","value":[]},"value":[1,3]},"gridColor":{"condition":{"test":"datum.value == 0.44215","value":"#000"},"value":"#666"},"gridWidth":{"condition":{"test":"datum.value == 0.44215","value":1.2},"value":0.8}}}}},
   {"width":68,"height":122,"transform":[{"filter":"datum.r == 'Desirability' && datum.c == '화학B 반수'"}],"mark":{"type":"line","point":{"filled":true,"fill":"white","stroke":"#000","strokeWidth":0.8,"size":14}},
    "encoding":{"x":{"field":"x","type":"quantitative","scale":{"domain":[-0.23,1.23]},"axis":{"title":null,"values":[0,0.125,1],"labelExpr":"datum.value == 0 ? '0.' : datum.value == 1 ? '1.' : ['', '.125']","gridOpacity":{"condition":{"test":"datum.value == 0.125","value":1},"value":0},"labelPadding":7,"labelLineHeight":10,"labelBaseline":"top"}},
     "y":{"field":"y","type":"quantitative","scale":{"domain":[0,1],"nice":false,"zero":false},"axis":{"title":null,"labels":false,"values":[0.08,0.25,0.44215,0.58,0.75,0.92],"gridDash":{"condition":{"test":"datum.value == 0.44215","value":[]},"value":[1,3]},"gridColor":{"condition":{"test":"datum.value == 0.44215","value":"#000"},"value":"#666"},"gridWidth":{"condition":{"test":"datum.value == 0.44215","value":1.2},"value":0.8}}}}},
   {"width":68,"height":122,"transform":[{"filter":"datum.r == 'Desirability' && datum.c == '화학C 이수'"}],"mark":{"type":"line","point":{"filled":true,"fill":"white","stroke":"#000","strokeWidth":0.8,"size":14}},
    "encoding":{"x":{"field":"x","type":"quantitative","scale":{"domain":[-0.23,1.23]},"axis":{"title":null,"values":[0,0.125,1],"labelExpr":"datum.value == 0 ? '0.' : datum.value == 1 ? '1.' : ['', '.125']","gridOpacity":{"condition":{"test":"datum.value == 0.125","value":1},"value":0},"labelPadding":7,"labelLineHeight":10,"labelBaseline":"top"}},
     "y":{"field":"y","type":"quantitative","scale":{"domain":[0,1],"nice":false,"zero":false},"axis":{"title":null,"labels":false,"values":[0.08,0.25,0.44215,0.58,0.75,0.92],"gridDash":{"condition":{"test":"datum.value == 0.44215","value":[]},"value":[1,3]},"gridColor":{"condition":{"test":"datum.value == 0.44215","value":"#000"},"value":"#666"},"gridWidth":{"condition":{"test":"datum.value == 0.44215","value":1.2},"value":0.8}}}}},
   {"width":68,"height":122,"transform":[{"filter":"datum.r == 'Desirability' && datum.c == '화학C 반수'"}],"mark":{"type":"line","point":{"filled":true,"fill":"white","stroke":"#000","strokeWidth":0.8,"size":14}},
    "encoding":{"x":{"field":"x","type":"quantitative","scale":{"domain":[-0.23,1.23]},"axis":{"title":null,"values":[0,0.125,1],"labelExpr":"datum.value == 0 ? '0.' : datum.value == 1 ? '1.' : ['', '.125']","gridOpacity":{"condition":{"test":"datum.value == 0.125","value":1},"value":0},"labelPadding":7,"labelLineHeight":10,"labelBaseline":"top"}},
     "y":{"field":"y","type":"quantitative","scale":{"domain":[0,1],"nice":false,"zero":false},"axis":{"title":null,"labels":false,"values":[0.08,0.25,0.44215,0.58,0.75,0.92],"gridDash":{"condition":{"test":"datum.value == 0.44215","value":[]},"value":[1,3]},"gridColor":{"condition":{"test":"datum.value == 0.44215","value":"#000"},"value":"#666"},"gridWidth":{"condition":{"test":"datum.value == 0.44215","value":1.2},"value":0.8}}}}}
  ]},
  {"width":36,"height":122,"view":{"stroke":null},
   "transform":[{"filter":"datum.r == 'Desirability'"}],
   "mark":{"type":"point","opacity":0},
   "encoding":{"y":{"field":"y","type":"quantitative","scale":{"domain":[0,1]},"axis":{"orient":"right","title":"Desirability","labels":false,"grid":false,"titleAngle":270,"titlePadding":28}}}}
 ]
}
]
}
